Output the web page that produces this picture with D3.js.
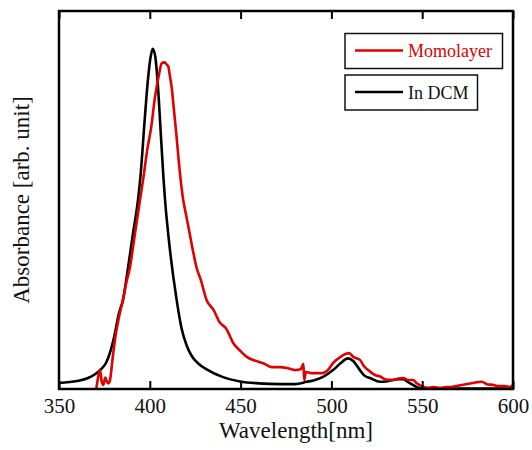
<!DOCTYPE html>
<html lang="en">
<head>
  <meta charset="UTF-8">
  <title>Absorbance</title>
  <script src="https://d3js.org/d3.v7.min.js"></script>
  <style>
    body {
      margin: 0;
      padding: 0;
      background-color: #fff;
    }
    text {
      font-family: "Liberation Serif", "Times New Roman", serif;
      fill: #111;
    }
    .curve {
      fill: none;
      stroke-width: 2.6px;
      stroke-linejoin: round;
    }
  </style>
</head>
<body>
  <div id="chart"></div>

  <script>
    // Input data
    const xTicks = [350, 400, 450, 500, 550, 600];

    const dcmWl = [350, 360, 366, 372.6, 376, 380, 383, 385.2, 388, 390.7, 393.5, 395, 397, 399, 400.5, 401.6,
      403, 404.5, 406, 407.5, 408.4, 411.1, 414.8, 417.5, 420.3, 423, 427, 431.3, 440, 449.7, 460, 471.7, 480, 486.4,
      491, 495.4, 500.9, 505, 509.1, 512, 515.7, 518, 521.3, 526.8, 530, 533.9, 537, 539.4, 542, 544.9,
      547, 550.4, 560, 580, 600];
    const dcmAbs = [0.016, 0.021, 0.029, 0.05, 0.07, 0.13, 0.2, 0.235, 0.32, 0.41, 0.5, 0.57, 0.7, 0.82, 0.88, 0.9,
      0.88, 0.8, 0.68, 0.56, 0.5, 0.368, 0.235, 0.16, 0.115, 0.088, 0.066, 0.052, 0.032, 0.02, 0.015, 0.013, 0.013, 0.019,
      0.024, 0.032, 0.05, 0.068, 0.081, 0.074, 0.05, 0.036, 0.029, 0.019, 0.02, 0.024, 0.026, 0.026, 0.019, 0.011,
      0.005, 0.002, 0.001, 0.001, 0.001];

    const monoWl = [370.5, 371.5, 372.6, 373.5, 374.4, 375.5, 376.3, 377.2, 378.1, 379.5, 380.8, 383, 385.4, 387, 389,
      391.8, 394.6, 396.5, 398.5, 401, 402.5, 403.8, 405, 406.5, 408, 409, 410.2, 411, 412, 413.3, 414.5, 416,
      417.3, 418.4, 420, 422, 424, 425.8, 428, 431.3, 435, 438.7, 442, 446, 450, 453.4, 458, 462.5, 467, 471.7,
      476, 480, 483, 484.6, 485, 486, 489, 495, 498, 501, 505, 508, 509.8, 512, 515.7, 518, 521.3, 524, 526.8,
      530, 533.9, 537, 539.4, 542, 544.9, 547, 550.4, 553, 556, 559.8, 563, 567, 571, 574.5, 578, 582.8, 586,
      589, 592, 595.6, 598, 600];
    const monoAbs = [0.0, 0.03, 0.05, 0.02, 0.011, 0.03, 0.02, 0.015, 0.024, 0.08, 0.13, 0.19, 0.24, 0.28, 0.32,
      0.41, 0.5, 0.56, 0.63, 0.7, 0.76, 0.8, 0.83, 0.861, 0.864, 0.86, 0.853, 0.83, 0.8, 0.738, 0.68, 0.6,
      0.54, 0.5, 0.46, 0.41, 0.36, 0.32, 0.29, 0.235, 0.21, 0.175, 0.16, 0.121, 0.1, 0.085, 0.075, 0.068, 0.058, 0.058,
      0.055, 0.05, 0.052, 0.066, 0.024, 0.045, 0.042, 0.042, 0.05, 0.069, 0.085, 0.093, 0.095, 0.085, 0.077, 0.06,
      0.046, 0.037, 0.033, 0.025, 0.024, 0.028, 0.029, 0.024, 0.024, 0.015, 0.006, 0.003, 0.005, 0.003, 0.005,
      0.006, 0.01, 0.013, 0.016, 0.019, 0.012, 0.011, 0.008, 0.008, 0.005, 0.011];

    const seriesNames = ['Momolayer', 'In DCM'];
    const seriesColors = ['#e00000', '#000000'];

    // SVG canvas
    const width = 532;
    const height = 450;
    const margin = { top: 11, right: 19, bottom: 61, left: 59 };

    const svg = d3.select('#chart')
      .append('svg')
      .attr('width', width)
      .attr('height', height);

    const x = d3.scaleLinear().domain([350, 600]).range([margin.left, width - margin.right]);
    const y = d3.scaleLinear().domain([0, 1]).range([height - margin.bottom, margin.top]);

    const line = d3.line()
      .curve(d3.curveMonotoneX)
      .x(d => x(d[0]))
      .y(d => y(d[1]));

    // clip curves to plot area
    svg.append('clipPath').attr('id', 'plot')
      .append('rect')
      .attr('x', x(350)).attr('y', y(1))
      .attr('width', x(600) - x(350)).attr('height', y(0) - y(1) + 1);

    const curves = svg.append('g').attr('clip-path', 'url(#plot)');

    curves.append('path')
      .datum(d3.zip(dcmWl, dcmAbs))
      .attr('class', 'curve')
      .attr('stroke', seriesColors[1])
      .attr('d', line);

    curves.append('path')
      .datum(d3.zip(monoWl, monoAbs))
      .attr('class', 'curve')
      .attr('stroke', seriesColors[0])
      .attr('d', line);

    // Axes: bottom with labels, top with inward ticks only
    const bottomAxis = svg.append('g')
      .attr('transform', `translate(0,${y(0)})`)
      .call(d3.axisBottom(x).tickValues(xTicks).tickSizeInner(-8).tickSizeOuter(0).tickPadding(9));

    const topAxis = svg.append('g')
      .attr('transform', `translate(0,${y(1)})`)
      .call(d3.axisTop(x).tickValues(xTicks).tickSizeInner(-8).tickSizeOuter(0).tickFormat(''));

    [bottomAxis, topAxis].forEach(g => {
      g.select('.domain').remove();
      g.selectAll('.tick line').attr('stroke', '#000').attr('stroke-width', 2);
    });
    bottomAxis.selectAll('.tick text')
      .style('font-size', '21px')
      .style('font-family', '"Liberation Serif", "Times New Roman", serif')
      .style('fill', '#111');

    // frame
    svg.append('rect')
      .attr('x', x(350)).attr('y', y(1))
      .attr('width', x(600) - x(350)).attr('height', y(0) - y(1))
      .attr('fill', 'none')
      .attr('stroke', '#000')
      .attr('stroke-width', 2.5);

    // axis titles
    svg.append('text')
      .attr('x', 296)
      .attr('y', 438)
      .attr('text-anchor', 'middle')
      .style('font-size', '23px')
      .text('Wavelength[nm]');

    svg.append('text')
      .attr('transform', 'translate(29,200) rotate(-90)')
      .attr('text-anchor', 'middle')
      .style('font-size', '23px')
      .text('Absorbance [arb. unit]');

    // legend: two separate boxes
    const boxes = [
      { x: 345, y: 33.5, w: 157.5, h: 35 },
      { x: 345, y: 75, w: 132.5, h: 35 }
    ];
    seriesNames.forEach((name, i) => {
      const b = boxes[i];
      const g = svg.append('g');
      g.append('rect')
        .attr('x', b.x).attr('y', b.y)
        .attr('width', b.w).attr('height', b.h)
        .attr('fill', '#fff')
        .attr('stroke', '#111')
        .attr('stroke-width', 1.5);
      g.append('line')
        .attr('x1', b.x + 10).attr('x2', b.x + 58)
        .attr('y1', b.y + 17).attr('y2', b.y + 17)
        .attr('stroke', seriesColors[i])
        .attr('stroke-width', 2.5);
      g.append('text')
        .attr('x', b.x + 63)
        .attr('y', b.y + 23.5)
        .style('font-size', '18px')
        .style('fill', i === 0 ? seriesColors[0] : '#111')
        .text(name);
    });
  </script>
</body>
</html>
